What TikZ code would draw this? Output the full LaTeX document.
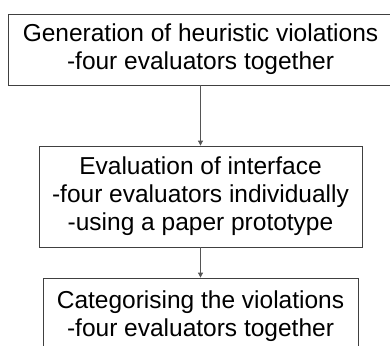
\documentclass[tikz,border=0pt]{standalone}
\usepackage{fontspec}
\setmainfont{Liberation Sans}
\usetikzlibrary{arrows.meta}
\definecolor{box-grey}{HTML}{404040}
\definecolor{arrow-grey}{HTML}{555555}
\tikzset{
  stagebox/.style={draw=box-grey, line width=0.8pt, fill=white, align=center,
    inner sep=0pt, font=\fontsize{24.5}{28}\selectfont},
  flow/.style={-{Triangle[length=5pt,width=5pt]}, draw=arrow-grey, line width=0.8pt}
}
\begin{document}
\begin{tikzpicture}[x=1pt, y=-1pt]
  \useasboundingbox (0,0) rectangle (390,345);
  % -- three stages, top to bottom --
  \node[stagebox, minimum width=385pt, minimum height=71pt] (gen) at (200.5,49.5)
        {Generation of heuristic violations\\-four evaluators together};
  \node[stagebox, minimum width=323pt, minimum height=101pt] (eval) at (200.5,196.5)
        {Evaluation of interface\\-four evaluators individually\\-using a paper prototype};
  \node[stagebox, minimum width=315pt, minimum height=76pt] (cat) at (200.5,316)
        {Categorising the violations\\-four evaluators together};
  % -- connectors --
  \draw[flow] (gen.south) -- (eval.north);
  \draw[flow] (eval.south) -- (cat.north);
\end{tikzpicture}
\end{document}
